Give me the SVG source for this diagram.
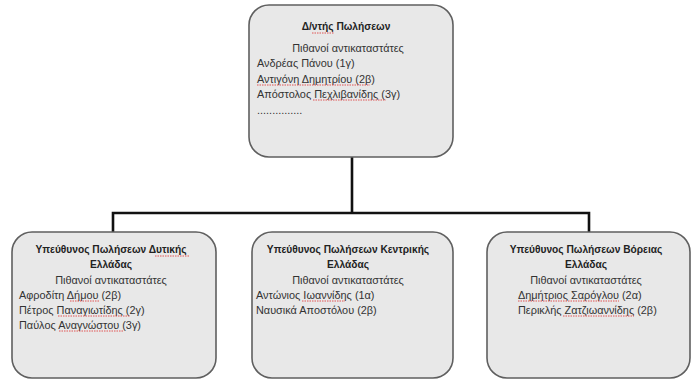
<svg xmlns="http://www.w3.org/2000/svg" width="695" height="380" viewBox="0 0 695 380">
<style>
.box{fill:#e8e8e8;stroke:#5f5f5f;stroke-width:1.6}
.t{font-family:"Liberation Sans","Noto Sans",sans-serif;font-size:10.9px;fill:#333}
.b{font-weight:bold;fill:#222;font-size:10.2px}
.c{text-anchor:middle}
.conn{fill:none;stroke:#111;stroke-width:2.6}
.sq{fill:none;stroke:#e03030;stroke-width:0.8;stroke-dasharray:1.5 1}
</style>
<rect width="695" height="380" fill="#ffffff"/>
<g id="connectors">
<path class="conn" d="M352 157 V213 M113 232 V213 H589 V232"/>
</g>
<g id="director">
<rect class="box" x="249" y="5" width="204" height="152" rx="20"/>
<text class="t b c" x="346" y="30">Δ/ντής Πωλήσεων</text>
<text class="t c" x="348" y="52">Πιθανοί αντικαταστάτες</text>
<text class="t" x="257" y="67">Ανδρέας Πάνου (1γ)</text>
<text class="t" x="257" y="83">Αντιγόνη Δημητρίου (2β)</text>
<text class="t" x="257" y="98">Απόστολος Πεχλιβανίδης (3γ)</text>
<text class="t" x="257" y="114">...............</text>
<path class="sq" d="M312 33 H334 M257 85 H370 M313 100 H386"/>
</g>
<g id="west">
<rect class="box" x="12" y="232" width="204" height="146" rx="20"/>
<text class="t b c" x="111" y="253">Υπεύθυνος Πωλήσεων Δυτικής</text>
<text class="t b c" x="111" y="268">Ελλάδας</text>
<text class="t c" x="111" y="284">Πιθανοί αντικαταστάτες</text>
<text class="t" x="19" y="299">Αφροδίτη Δήμου (2β)</text>
<text class="t" x="19" y="314">Πέτρος Παναγιωτίδης (2γ)</text>
<text class="t" x="19" y="329">Παύλος Αναγνώστου (3γ)</text>
<path class="sq" d="M155 256 H189 M70 301 H100 M58 316 H130 M59 331 H123"/>
</g>
<g id="central">
<rect class="box" x="252" y="232" width="201" height="146" rx="20"/>
<text class="t b c" x="348" y="253">Υπεύθυνος Πωλήσεων Κεντρικής</text>
<text class="t b c" x="348" y="268">Ελλάδας</text>
<text class="t c" x="348" y="284">Πιθανοί αντικαταστάτες</text>
<text class="t" x="256" y="299">Αντώνιος Ιωαννίδης (1α)</text>
<text class="t" x="256" y="314">Ναυσικά Αποστόλου (2β)</text>
<path class="sq" d="M302 301 H345"/>
</g>
<g id="north">
<rect class="box" x="487" y="232" width="203" height="146" rx="20"/>
<text class="t b c" x="586" y="253">Υπεύθυνος Πωλήσεων Βόρειας</text>
<text class="t b c" x="586" y="268">Ελλάδας</text>
<text class="t c" x="586" y="284">Πιθανοί αντικαταστάτες</text>
<text class="t" x="518" y="299">Δημήτριος Σαρόγλου (2α)</text>
<text class="t" x="518" y="314">Περικλής Ζατζιωαννίδης (2β)</text>
<path class="sq" d="M518 301 H619 M563 316 H634"/>
</g>
</svg>
